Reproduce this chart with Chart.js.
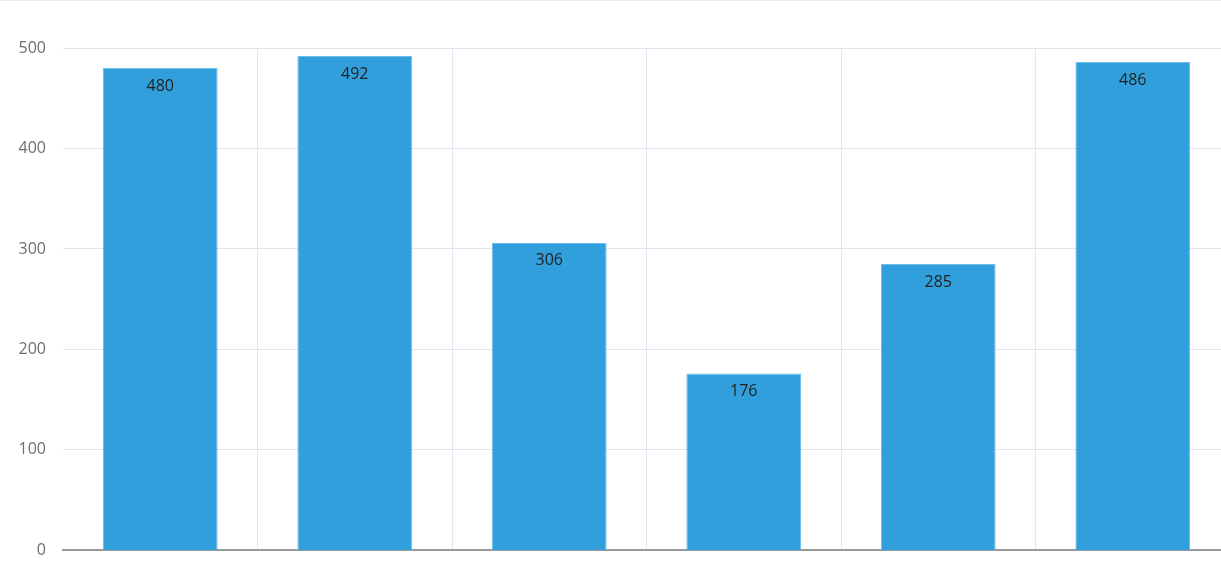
<!DOCTYPE html>
<html lang="en">
<head>
    <meta charset="UTF-8">
    <title>Bar chart</title>
    <script src="https://cdn.jsdelivr.net/npm/chart.js"></script>
    <style>
        html, body {
            margin: 0;
            padding: 0;
            background: #fff;
            overflow: hidden;
        }
        .wrap {
            width: 1221px;
            height: 562px;
            border-top: 1px solid #ebebeb;
            box-sizing: border-box;
            overflow: hidden;
        }
    </style>
</head>
<body>
    <div class="wrap">
        <canvas id="barChart" width="1230" height="576"></canvas>
    </div>
    <script>
        const categories = ['A', 'B', 'C', 'D', 'E', 'F'];
        const values = [480, 492, 306, 176, 285, 486];
        const yTicks = [0, 100, 200, 300, 400, 500];

        const gridColor = '#e0e6f1';
        const fontFamily = "'Open Sans', 'Noto Sans', sans-serif";

        // simple label drawn inside the top of each bar
        const insideTopLabels = {
            id: 'insideTopLabels',
            afterDatasetsDraw(chart) {
                const ctx = chart.ctx;
                const meta = chart.getDatasetMeta(0);
                ctx.save();
                ctx.font = '16px ' + fontFamily;
                ctx.fillStyle = '#222';
                ctx.textAlign = 'center';
                ctx.textBaseline = 'middle';
                meta.data.forEach((bar, i) => {
                    ctx.fillText(values[i], bar.x, bar.y + 18);
                });
                ctx.restore();
            }
        };

        new Chart(document.getElementById('barChart'), {
            type: 'bar',
            data: {
                labels: categories,
                datasets: [{
                    data: values,
                    backgroundColor: '#329fdd',
                    borderColor: '#6cbbe8',
                    borderWidth: { top: 1, left: 1, right: 1, bottom: 0 },
                    borderSkipped: 'bottom',
                    categoryPercentage: 0.59,
                    barPercentage: 1
                }]
            },
            options: {
                responsive: false,
                animation: false,
                layout: { padding: { top: 47, right: 0, bottom: 9, left: 0 } },
                plugins: {
                    legend: { display: false },
                    tooltip: { enabled: false }
                },
                scales: {
                    x: {
                        grid: {
                            offset: true,
                            drawTicks: false,
                            color: c => (c.index === 0 ? 'rgba(0,0,0,0)' : gridColor)
                        },
                        border: { display: true, color: '#9a9a9a', width: 2 },
                        ticks: { display: false }
                    },
                    y: {
                        min: 0,
                        max: 500,
                        afterBuildTicks: s => { s.ticks = yTicks.map(v => ({ value: v })); },
                        afterFit: s => { s.width = 63; },
                        grid: { color: gridColor, drawTicks: false },
                        border: { display: false },
                        ticks: {
                            padding: 17,
                            color: '#6e6e6e',
                            font: { size: 16, family: fontFamily }
                        }
                    }
                }
            },
            plugins: [insideTopLabels]
        });
    </script>
</body>
</html>
